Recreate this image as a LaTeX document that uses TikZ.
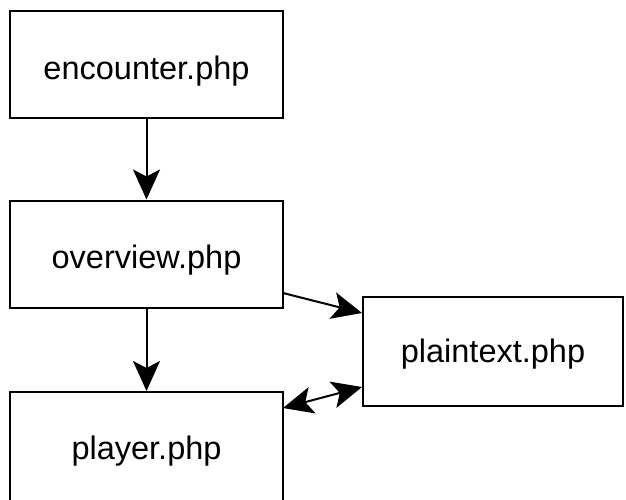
\documentclass[tikz,border=0pt]{standalone}
\usepackage{fontspec}
\setmainfont{Liberation Sans}
\usetikzlibrary{arrows.meta}
\begin{document}
\begin{tikzpicture}[x=1pt,y=-1pt,
  filebox/.style={draw=black,line width=2pt,fill=white,inner sep=0pt},
  filename/.style={anchor=base,inner sep=0pt,font=\fontsize{32.5}{39}\selectfont},
  link/.style={line width=2pt,-{Stealth[length=30pt,width=27pt,inset=7pt]}},
  biflow/.style={line width=2pt,{Stealth[length=30pt,width=27pt,inset=7pt]}-{Stealth[length=30pt,width=27pt,inset=7pt]}}]
  \useasboundingbox (0,0) rectangle (626,499);
  \clip (0,0) rectangle (626,499);
  % file boxes
  \node[filebox,minimum width=273pt,minimum height=107pt] (enc) at (146.5,64.5) {};
  \node[filebox,minimum width=273pt,minimum height=107pt] (ovr) at (146.5,254) {};
  \node[filebox,minimum width=260pt,minimum height=109pt] (pln) at (493,351.5) {};
  \node[filebox,minimum width=273pt,minimum height=120pt] (ply) at (146.5,452) {};
  % file names, set on their baselines
  \node[filename] (enclabel) at (146.5,79) {encounter.php};
  \node[filename] (ovrlabel) at (146.5,268.3) {overview.php};
  \node[filename] (plnlabel) at (493,362.7) {plaintext.php};
  \node[filename] (plylabel) at (146.5,459.3) {player.php};
  % connectors
  \coordinate (o1) at (283,293);
  \coordinate (p1) at (362,313);
  \coordinate (y1) at (283,408);
  \coordinate (p2) at (362,387);
  \draw[link] (enc.south) -- (ovr.north);
  \draw[link] (ovr.south) -- (ply.north);
  \draw[link] (o1) -- (p1);
  \draw[biflow] (y1) -- (p2);
\end{tikzpicture}
\end{document}
